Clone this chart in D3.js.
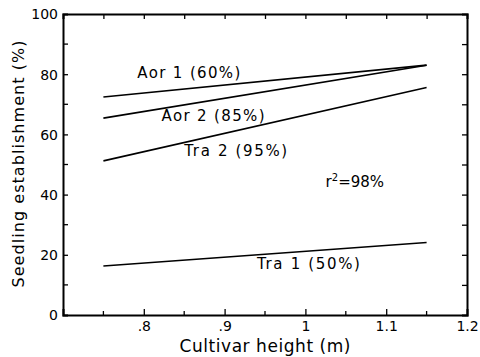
<!DOCTYPE html>
<html>
<head>
<meta charset="utf-8">
<script src="https://cdn.jsdelivr.net/npm/d3@7"></script>
<style>
  body { margin: 0; background: #fff; }
  text { font-family: "DejaVu Sans", sans-serif; fill: #000; }
</style>
</head>
<body>
<svg width="480" height="357"></svg>
<script>
// cultivar height range of the fitted lines
var xRange = [0.75, 1.15]
var series = ['Aor 1 (60%)', 'Aor 2 (85%)', 'Tra 2 (95%)', 'Tra 1 (50%)']
var startVals = [72.4, 65.4, 51.2, 16.3]
var endVals = [83, 83, 75.6, 24.1]
// where each label sits (x in m, y in %)
var labelX = [0.792, 0.822, 0.85, 0.94]
var labelY = [78.6, 64.3, 52.7, 15.3]
var xTicks = [0.8, 0.9, 1, 1.1, 1.2]
var xTickLabels = ['.8', '.9', '1', '1.1', '1.2']
var yTicks = [0, 20, 40, 60, 80, 100]

var svg = d3.select('svg')
var m = { left: 63, top: 14, right: 467, bottom: 315 }

var x = d3.scaleLinear().domain([0.7, 1.2]).range([m.left, m.right])
var y = d3.scaleLinear().domain([0, 100]).range([m.bottom, m.top])

var minorX = d3.range(0.75, 1.2, 0.1)
var minorY = d3.range(10, 100, 20)

// bottom axis
var gx = svg.append('g').attr('transform', 'translate(0,' + m.bottom + ')')
gx.call(d3.axisBottom(x).tickValues(xTicks).tickFormat(function (d, i) { return xTickLabels[i] }).tickSize(-6).tickPadding(6))
gx.selectAll('.tick').filter(function (d) { return d === 1.2 }).select('line').remove()
gx.append('g').selectAll('line').data(minorX).enter().append('line')
  .attr('x1', x).attr('x2', x).attr('y1', 0).attr('y2', -4).attr('stroke', '#000').attr('stroke-width', 1.3)

// left axis
var gy = svg.append('g').attr('transform', 'translate(' + m.left + ',0)')
gy.call(d3.axisLeft(y).tickValues(yTicks).tickSize(-5).tickPadding(5))
gy.selectAll('.tick').filter(function (d) { return d === 0 || d === 100 }).select('line').remove()
gy.append('g').selectAll('line').data(minorY).enter().append('line')
  .attr('y1', y).attr('y2', y).attr('x1', 0).attr('x2', 5).attr('stroke', '#000').attr('stroke-width', 1.3)

// top and right axes (ticks only)
var gt = svg.append('g').attr('transform', 'translate(0,' + m.top + ')')
gt.call(d3.axisTop(x).tickValues(xTicks.concat(minorX).filter(function (d) { return d < 1.19 })).tickSize(-5).tickFormat(''))
var gr = svg.append('g').attr('transform', 'translate(' + m.right + ',0)')
gr.call(d3.axisRight(y).tickValues(d3.range(10, 100, 10)).tickSize(-5).tickFormat(''))

svg.selectAll('.domain').attr('stroke-width', 2)
svg.selectAll('.tick line').attr('stroke-width', 1.3)
svg.selectAll('.tick text').style('font-size', '14px').style('font-family', '"DejaVu Sans", sans-serif')
gy.selectAll('.tick text').attr('dy', '0.35em')

// fitted lines
svg.append('g').selectAll('line').data(series).enter().append('line')
  .attr('x1', x(xRange[0])).attr('x2', x(xRange[1]))
  .attr('y1', function (d, i) { return y(startVals[i]) })
  .attr('y2', function (d, i) { return y(endVals[i]) })
  .attr('stroke', '#000').attr('stroke-width', 1.6)

svg.append('g').selectAll('text').data(series).enter().append('text')
  .attr('x', function (d, i) { return x(labelX[i]) })
  .attr('y', function (d, i) { return y(labelY[i]) })
  .attr('textLength', 103)
  .style('font-size', '15px')
  .text(function (d) { return d })

var r2 = svg.append('text').attr('x', x(1.025)).attr('y', y(42.6)).style('font-size', '15px')
r2.append('tspan').text('r')
r2.append('tspan').attr('dy', -6).style('font-size', '10px').text('2')
r2.append('tspan').attr('dy', 6).text('=98%')

// axis titles
svg.append('text').attr('x', 265).attr('y', 352).attr('text-anchor', 'middle')
  .attr('textLength', 171).style('font-size', '17px').text('Cultivar height (m)')
svg.append('text').attr('transform', 'translate(24,164) rotate(-90)').attr('text-anchor', 'middle')
  .attr('textLength', 247).style('font-size', '16px').text('Seedling establishment (%)')
</script>
</body>
</html>
